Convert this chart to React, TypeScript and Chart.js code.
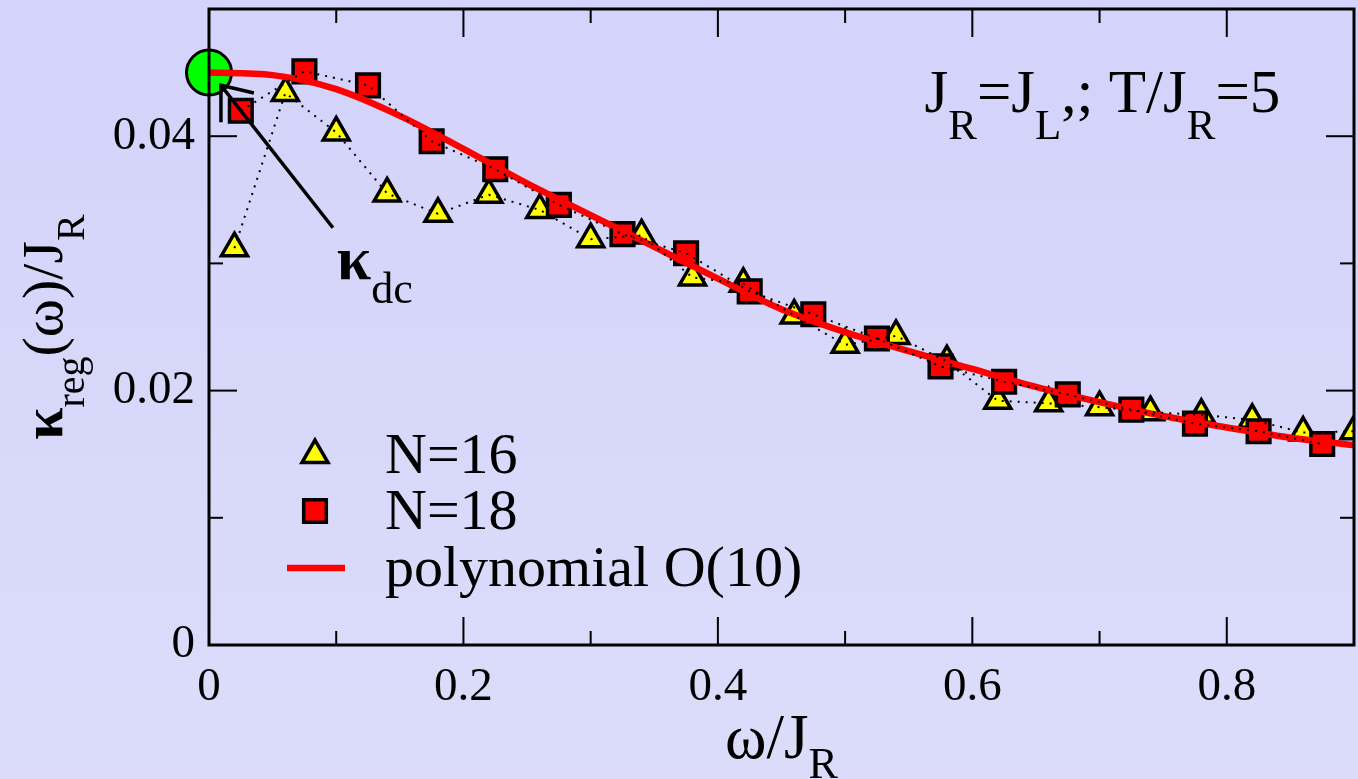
import React, { useEffect, useRef } from "react";
import { Chart, registerables } from "chart.js";
Chart.register(...registerables);

// ---------- data ----------
const triX = [0.02, 0.06, 0.10, 0.14, 0.18, 0.22, 0.26, 0.30, 0.34, 0.38, 0.42, 0.46, 0.50, 0.54, 0.58, 0.62, 0.66, 0.70, 0.74, 0.78, 0.82, 0.86, 0.90];
const triY = [0.0312, 0.0434, 0.0403, 0.0355, 0.0339, 0.0354, 0.0342, 0.0319, 0.0322, 0.0289, 0.0284, 0.0259, 0.0236, 0.0243, 0.0223, 0.0192, 0.0190, 0.0187, 0.0183, 0.0181, 0.0177, 0.0167, 0.0168];

const sqX = [0.025, 0.075, 0.125, 0.175, 0.225, 0.275, 0.325, 0.375, 0.425, 0.475, 0.525, 0.575, 0.625, 0.675, 0.725, 0.775, 0.825, 0.875];
const sqY = [0.0420, 0.0451, 0.0440, 0.0396, 0.0374, 0.0346, 0.0323, 0.0308, 0.0278, 0.0260, 0.0241, 0.0219, 0.0207, 0.0197, 0.0185, 0.0174, 0.0168, 0.0158];

const polyX = [0, 0.05, 0.10, 0.15, 0.20, 0.25, 0.30, 0.35, 0.40, 0.45, 0.50, 0.55, 0.60, 0.65, 0.70, 0.75, 0.80, 0.85, 0.90];
const polyY = [0.0450, 0.0448, 0.0437, 0.0416, 0.0390, 0.0363, 0.0338, 0.0313, 0.0288, 0.0264, 0.0246, 0.0231, 0.0217, 0.0203, 0.0191, 0.0180, 0.0171, 0.0163, 0.0157];

const kdcX = [0];
const kdcY = [0.0450];

// arrow pointing at kappa_dc (annotation, data units)
const arrowLineX = [0.0974, 0.0094];
const arrowLineY = [0.0328, 0.0440];
const arrowHeadX = [0.0094, 0.0094, 0.0353];
const arrowHeadY = [0.0411, 0.0440, 0.0434];

const xTickValues = [0, 0.2, 0.4, 0.6, 0.8];
const xTickLabels = ["0", "0.2", "0.4", "0.6", "0.8"];
const xMinorValues = [0.1, 0.3, 0.5, 0.7];
const yTickValues = [0, 0.02, 0.04];
const yTickLabels = ["0", "0.02", "0.04"];
const yMinorValues = [0.01, 0.03];

const legendLabels = ["N=16", "N=18", "polynomial O(10)"];

// [text, kind]: 0 = normal, 1 = subscript, 2 = bold (kappa)
type Part = [string, number];
const xTitle: Part[] = [["ω/J", 0], ["R", 1]];
const yTitle: Part[] = [["κ", 2], ["reg", 1], ["(ω)/J", 0], ["R", 1]];
const kdcText: Part[] = [["κ", 2], ["dc", 1]];
const infoText: Part[] = [["J", 0], ["R", 1], ["=J", 0], ["L", 1], [",; T/J", 0], ["R", 1], ["=5", 0]];

const FONT = "'Liberation Serif', 'Times New Roman', serif";

function pts(xs: number[], ys: number[]) {
  return xs.map((x, i) => ({ x, y: ys[i] }));
}

function setFont(ctx: CanvasRenderingContext2D, kind: number, main: number, sub: number) {
  if (kind === 1) ctx.font = `${sub}px ${FONT}`;
  else if (kind === 2) ctx.font = `bold ${main}px ${FONT}`;
  else ctx.font = `${main}px ${FONT}`;
}

function richWidth(ctx: CanvasRenderingContext2D, parts: Part[], main: number, sub: number) {
  let w = 0;
  for (const [t, k] of parts) {
    setFont(ctx, k, main, sub);
    w += ctx.measureText(t).width;
  }
  return w;
}

function drawRich(ctx: CanvasRenderingContext2D, parts: Part[], x: number, y: number, main: number, sub: number, off: number) {
  let cx = x;
  ctx.textBaseline = "alphabetic";
  ctx.textAlign = "left";
  for (const [t, k] of parts) {
    setFont(ctx, k, main, sub);
    ctx.fillText(t, cx, k === 1 ? y + off : y);
    cx += ctx.measureText(t).width;
  }
}

function labelFor(v: number, vals: number[], labels: string[]) {
  const i = vals.findIndex((t) => Math.abs(t - v) < 1e-9);
  return i >= 0 ? labels[i] : "";
}

const bgPlugin = {
  id: "bg",
  beforeDraw(chart: any) {
    const { ctx, width, height } = chart;
    ctx.save();
    const g = ctx.createLinearGradient(0, 0, 0, height);
    g.addColorStop(0, "#d3d3fb");
    g.addColorStop(1, "#dcdcfa");
    ctx.fillStyle = g;
    ctx.fillRect(0, 0, width, height);
    ctx.restore();
  },
};

const framePlugin = {
  id: "frame",
  afterDatasetsDraw(chart: any) {
    const { ctx, chartArea: a, scales } = chart;
    const xs = scales.x, ys = scales.y;
    ctx.save();
    ctx.strokeStyle = "#000";
    ctx.lineWidth = 2;
    const tick = (x1: number, y1: number, x2: number, y2: number) => {
      ctx.beginPath(); ctx.moveTo(x1, y1); ctx.lineTo(x2, y2); ctx.stroke();
    };
    for (const v of xTickValues) {
      const p = xs.getPixelForValue(v);
      tick(p, a.bottom, p, a.bottom - 28); tick(p, a.top, p, a.top + 28);
    }
    for (const v of xMinorValues) {
      const p = xs.getPixelForValue(v);
      tick(p, a.bottom, p, a.bottom - 14); tick(p, a.top, p, a.top + 14);
    }
    for (const v of yTickValues) {
      const p = ys.getPixelForValue(v);
      tick(a.left, p, a.left + 28, p); tick(a.right, p, a.right - 28, p);
    }
    for (const v of yMinorValues) {
      const p = ys.getPixelForValue(v);
      tick(a.left, p, a.left + 14, p); tick(a.right, p, a.right - 14, p);
    }
    ctx.lineWidth = 3;
    ctx.strokeRect(a.left, a.top, a.right - a.left, a.bottom - a.top);
    ctx.restore();
  },
  afterDraw(chart: any) {
    const { ctx, chartArea: a, scales } = chart;
    const xs = scales.x, ys = scales.y;
    ctx.save();
    ctx.fillStyle = "#000";

    // legend
    const ds = chart.data.datasets;
    const symX = a.left + 106;
    const textX = a.left + 176;
    const rowY = [455, 511, 568];
    legendLabels.forEach((lab, i) => {
      const d = ds.find((q: any) => q.label === lab);
      const cy = rowY[i];
      if (d.showLine) {
        ctx.strokeStyle = d.borderColor;
        ctx.lineWidth = d.borderWidth;
        ctx.beginPath(); ctx.moveTo(symX - 28, cy); ctx.lineTo(symX + 30, cy); ctx.stroke();
      } else {
        ctx.fillStyle = d.pointBackgroundColor;
        ctx.strokeStyle = d.pointBorderColor;
        ctx.lineWidth = d.pointBorderWidth;
        ctx.beginPath();
        const r = d.pointRadius;
        if (d.pointStyle === "triangle") {
          ctx.moveTo(symX, cy - r);
          ctx.lineTo(symX + r * Math.sin(2 * Math.PI / 3), cy - r * Math.cos(2 * Math.PI / 3));
          ctx.lineTo(symX + r * Math.sin(4 * Math.PI / 3), cy - r * Math.cos(4 * Math.PI / 3));
          ctx.closePath();
        } else {
          const s = r * Math.SQRT1_2;
          ctx.rect(symX - s, cy - s, 2 * s, 2 * s);
        }
        ctx.fill(); ctx.stroke();
      }
      ctx.fillStyle = "#000";
      ctx.font = `58px ${FONT}`;
      ctx.textBaseline = "middle";
      ctx.textAlign = "left";
      ctx.fillText(lab, textX, cy + 3);
    });

    // info text
    drawRich(ctx, infoText, xs.getPixelForValue(0.5624), ys.getPixelForValue(0.04187), 61, 43, 27);
    // kappa_dc label
    drawRich(ctx, kdcText, xs.getPixelForValue(0.1005), ys.getPixelForValue(0.0288), 62, 44, 24);

    // x title
    const xw = richWidth(ctx, xTitle, 63, 44);
    drawRich(ctx, xTitle, (a.left + a.right) / 2 - xw / 2, 758, 63, 44, 20);

    // y title
    const yw = richWidth(ctx, yTitle, 58, 40);
    ctx.save();
    ctx.translate(62, (a.top + a.bottom) / 2 + yw / 2);
    ctx.rotate(-Math.PI / 2);
    drawRich(ctx, yTitle, 0, 0, 58, 40, 22);
    ctx.restore();

    ctx.restore();
  },
};

export default function App() {
  const ref = useRef<HTMLCanvasElement>(null);
  useEffect(() => {
    document.body.style.margin = "0";
    const canvas = ref.current!;
    const chart = new Chart(canvas, {
      type: "scatter",
      data: {
        datasets: [
          {
            label: "kdc", data: pts(kdcX, kdcY), showLine: false, clip: false,
            pointStyle: "circle", pointRadius: 22.5, pointBackgroundColor: "#00ff00",
            pointBorderColor: "#000", pointBorderWidth: 3, order: 7,
          },
          {
            label: "N=16", data: pts(triX, triY), showLine: false,
            pointStyle: "triangle", pointRadius: 15, pointBackgroundColor: "#ffff00",
            pointBorderColor: "#000", pointBorderWidth: 3.5, order: 6,
          },
          {
            label: "N=18", data: pts(sqX, sqY), showLine: false,
            pointStyle: "rect", pointRadius: 16, pointBackgroundColor: "#ff0000",
            pointBorderColor: "#000", pointBorderWidth: 3.5, order: 5,
          },
          {
            label: "polynomial O(10)", data: pts(polyX, polyY), showLine: true,
            borderColor: "#ff0000", borderWidth: 6.5, pointRadius: 0,
            cubicInterpolationMode: "monotone", order: 4,
          },
          {
            label: "N=16 line", data: pts(triX, triY), showLine: true,
            borderColor: "#000", borderWidth: 2, borderDash: [2, 6], pointRadius: 0, order: 3,
          },
          {
            label: "N=18 line", data: pts(sqX, sqY), showLine: true,
            borderColor: "#000", borderWidth: 2, borderDash: [2, 6], pointRadius: 0, order: 2,
          },
          {
            label: "arrow", data: pts(arrowLineX, arrowLineY), showLine: true, clip: false,
            borderColor: "#000", borderWidth: 3.5, pointRadius: 0, order: 1,
          },
          {
            label: "arrowhead", data: pts(arrowHeadX, arrowHeadY), showLine: true, clip: false,
            borderColor: "#000", borderWidth: 3.5, pointRadius: 0, borderJoinStyle: "miter", order: 0,
          },
        ] as any,
      },
      options: {
        animation: false,
        responsive: false,
        devicePixelRatio: 1,
        events: [],
        layout: { autoPadding: false, padding: { top: 9, right: 4, left: 0, bottom: 0 } },
        plugins: { legend: { display: false }, tooltip: { enabled: false } },
        scales: {
          x: {
            type: "linear", min: 0, max: 0.9,
            grid: { display: false, drawTicks: false },
            border: { display: false },
            ticks: {
              font: { family: FONT, size: 47 }, color: "#000", padding: 14,
              maxRotation: 0, autoSkip: false,
              callback: (v: any) => labelFor(Number(v), xTickValues, xTickLabels),
            },
            afterBuildTicks: (s: any) => { s.ticks = xTickValues.map((v) => ({ value: v })); },
            afterFit: (s: any) => { s.height = 134; s.paddingLeft = 0; s.paddingRight = 0; },
          },
          y: {
            type: "linear", min: 0, max: 0.05,
            grid: { display: false, drawTicks: false },
            border: { display: false },
            ticks: {
              font: { family: FONT, size: 47 }, color: "#000", padding: 14,
              autoSkip: false,
              callback: (v: any) => labelFor(Number(v), yTickValues, yTickLabels),
            },
            afterBuildTicks: (s: any) => { s.ticks = yTickValues.map((v) => ({ value: v })); },
            afterFit: (s: any) => { s.width = 209; s.paddingTop = 0; s.paddingBottom = 0; },
          },
        },
      } as any,
      plugins: [bgPlugin, framePlugin],
    });
    return () => chart.destroy();
  }, []);
  return (
    <canvas ref={ref} width={1358} height={779} style={{ display: "block", width: 1358, height: 779 }} />
  );
}
